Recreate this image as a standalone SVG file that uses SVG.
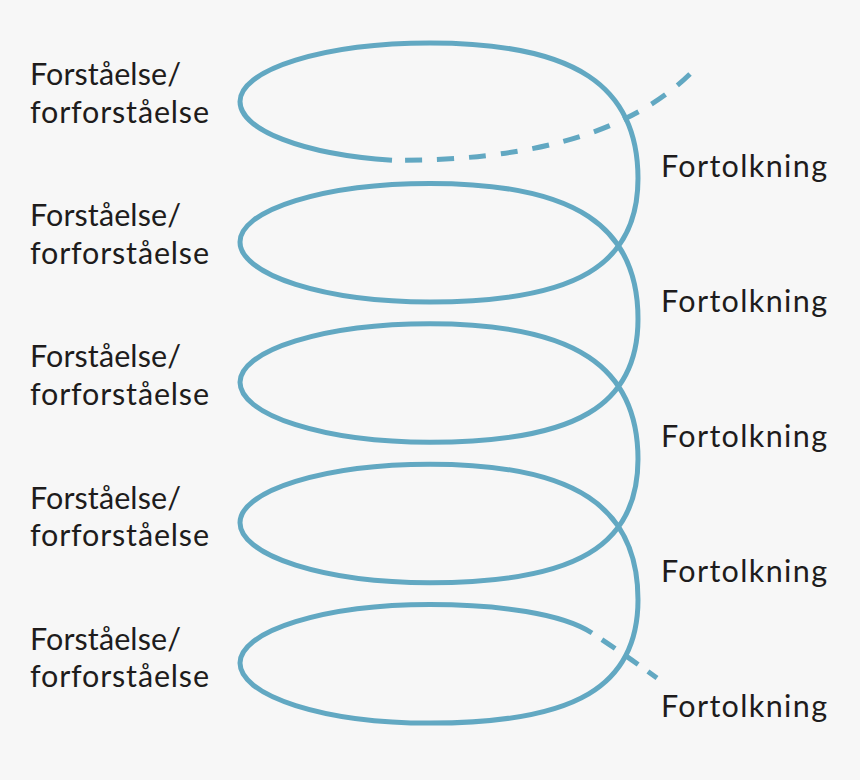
<svg xmlns="http://www.w3.org/2000/svg" width="860" height="780" viewBox="0 0 860 780">
<style>
.sp{fill:none;stroke:#62a8c2;stroke-width:5;stroke-linecap:butt;stroke-linejoin:round}
.dash{stroke-dasharray:17 15}
.lbl{font-family:Lato,"Open Sans","Noto Sans",sans-serif;font-size:30.5px;fill:#1e1c1c}
</style>
<rect width="860" height="780" fill="#f7f7f7"/>
<g id="connectors">
<path id="spiral" class="sp" d="M392,160.3 A190,60 0 0 1 240,101.5 A190,58.5 0 0 1 430,43 C576,43 638,86.5 638,178.5 C638,264.9 576,301.9 430,301.9 A190,60 0 0 1 240,241.9 A190,58.5 0 0 1 430,183.4 C576,183.4 638,226.9 638,318.9 C638,405.3 576,442.3 430,442.3 A190,60 0 0 1 240,382.3 A190,58.5 0 0 1 430,323.8 C576,323.8 638,367.3 638,459.3 C638,545.7 576,582.7 430,582.7 A190,60 0 0 1 240,522.7 A190,58.5 0 0 1 430,464.2 C576,464.2 638,507.7 638,599.7 C638,686.1 576,723.1 430,723.1 A190,60 0 0 1 240,663.1 A190,58.5 0 0 1 430,604.6 C500,604.6 562,613.6 592,633"/>
<path id="dash-top" class="sp dash" d="M690,74 C625,137 520,161 392,160.3"/>
<path id="dash-bottom" class="sp" style="stroke-dasharray:16 12;stroke-dashoffset:16" d="M592,633 Q624,654 657,678"/>
</g>
<g id="label-left-1"><text class="lbl"><tspan x="30" y="85" textLength="151">Forståelse/</tspan><tspan x="30" y="122.5" textLength="179">forforståelse</tspan></text></g>
<g id="label-left-2"><text class="lbl"><tspan x="30" y="226.2" textLength="151">Forståelse/</tspan><tspan x="30" y="263.7" textLength="179">forforståelse</tspan></text></g>
<g id="label-left-3"><text class="lbl"><tspan x="30" y="367.4" textLength="151">Forståelse/</tspan><tspan x="30" y="404.9" textLength="179">forforståelse</tspan></text></g>
<g id="label-left-4"><text class="lbl"><tspan x="30" y="508.6" textLength="151">Forståelse/</tspan><tspan x="30" y="546.1" textLength="179">forforståelse</tspan></text></g>
<g id="label-left-5"><text class="lbl"><tspan x="30" y="649.8" textLength="151">Forståelse/</tspan><tspan x="30" y="687.3" textLength="179">forforståelse</tspan></text></g>
<g id="label-right-1"><text class="lbl" x="661" y="177" textLength="166">Fortolkning</text></g>
<g id="label-right-2"><text class="lbl" x="661" y="312" textLength="166">Fortolkning</text></g>
<g id="label-right-3"><text class="lbl" x="661" y="447" textLength="166">Fortolkning</text></g>
<g id="label-right-4"><text class="lbl" x="661" y="582" textLength="166">Fortolkning</text></g>
<g id="label-right-5"><text class="lbl" x="661" y="717" textLength="166">Fortolkning</text></g>
</svg>
